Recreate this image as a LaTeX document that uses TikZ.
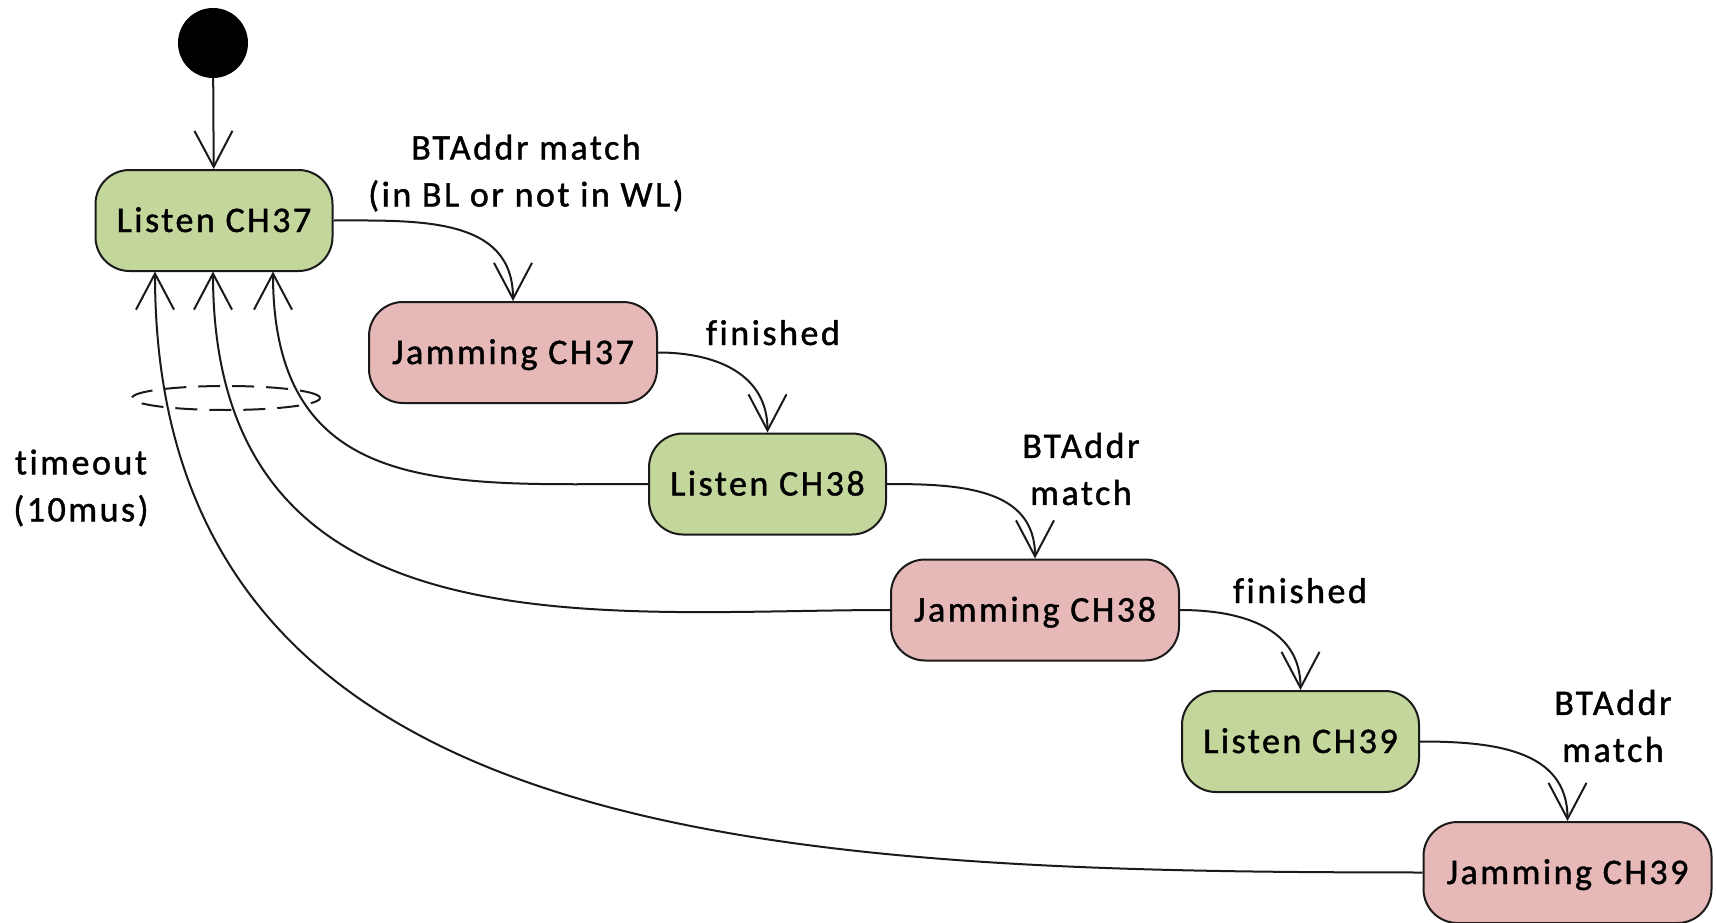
\documentclass[tikz,border=0pt]{standalone}
\usepackage{fontspec}
\setmainfont{Carlito}
\newfontfamily\diafont[LetterSpace=7,Ligatures=NoCommon,FakeBold=1.2]{Carlito}
\usetikzlibrary{arrows.meta}

\definecolor{listenfill}{HTML}{C3D69B}
\definecolor{jamfill}{HTML}{E6B9B8}
\definecolor{ink}{HTML}{1A1A1A}

\begin{document}
\begin{tikzpicture}[x=1pt,y=-1pt,
  every node/.style={font=\diafont\fontsize{36}{47}\selectfont},
  state/.style={draw=ink, line width=2pt, rounded corners=34pt,
    minimum height=101pt, inner sep=0pt, text height=23pt, text depth=0pt},
  listen/.style={state, fill=listenfill, minimum width=237pt},
  jam/.style={state, fill=jamfill, minimum width=288pt},
  trans/.style={draw=ink, line width=2pt,
    -{Straight Barb[length=36pt,width=38pt,line width=2pt]}},
  lbl/.style={align=center, inner sep=0pt}
]
\useasboundingbox (0,0) rectangle (1716,923);

% initial pseudo-state
\node[circle, fill=black, minimum size=70pt, inner sep=0pt] (init) at (213,43) {};

% states
\node[listen] (L37) at (214,220.5) {Listen CH37};
\node[jam]    (J37) at (513,352.5) {Jamming CH37};
\node[listen] (L38) at (767.5,484) {Listen CH38};
\node[jam]    (J38) at (1035,610) {Jamming CH38};
\node[listen] (L39) at (1300.5,741.5) {Listen CH39};
\node[jam]    (J39) at (1567.5,872.5) {Jamming CH39};

% forward transitions
\draw[trans] (init) -- (L37);
\draw[trans] (L37.east) to[out=0,in=90,looseness=1.1] (J37.north);
\draw[trans] (J37.east) to[out=0,in=90,looseness=1.1] (L38.north);
\draw[trans] (L38.east) to[out=0,in=90,looseness=1.1] (J38.north);
\draw[trans] (J38.east) to[out=0,in=90,looseness=1.1] (L39.north);
\draw[trans] (L39.east) to[out=0,in=90,looseness=1.1] (J39.north);

% timeout transitions back to Listen CH37
\coordinate (r1) at (273,271.5);
\coordinate (r2) at (213,271.5);
\coordinate (r3) at (155,271.5);
\draw[trans] (L38.west) .. controls (450,484) and (273,500) .. (r1);
\draw[trans] (J38.west) .. controls (600,610) and (213,660) .. (r2);
\draw[trans] (J39.west) .. controls (780,872) and (155,850) .. (r3);

% grouping of the timeout transitions
\draw[ink, line width=2pt, dash pattern=on 22pt off 12pt]
  (226,398) ellipse [x radius=94pt, y radius=12pt];

% transition labels
\node[lbl] (t1) at (526,173) {BTAddr match\\(in BL or not in WL)};
\node[lbl, anchor=base] (t2) at (773,345) {finished};
\node[lbl] (t3) at (1081,469) {BTAddr\\match};
\node[lbl, anchor=base] (t4) at (1300,603) {finished};
\node[lbl] (t5) at (1613,726) {BTAddr\\match};
\node[lbl] (t6) at (81,488) {timeout\\(10mus)};
\end{tikzpicture}
\end{document}
